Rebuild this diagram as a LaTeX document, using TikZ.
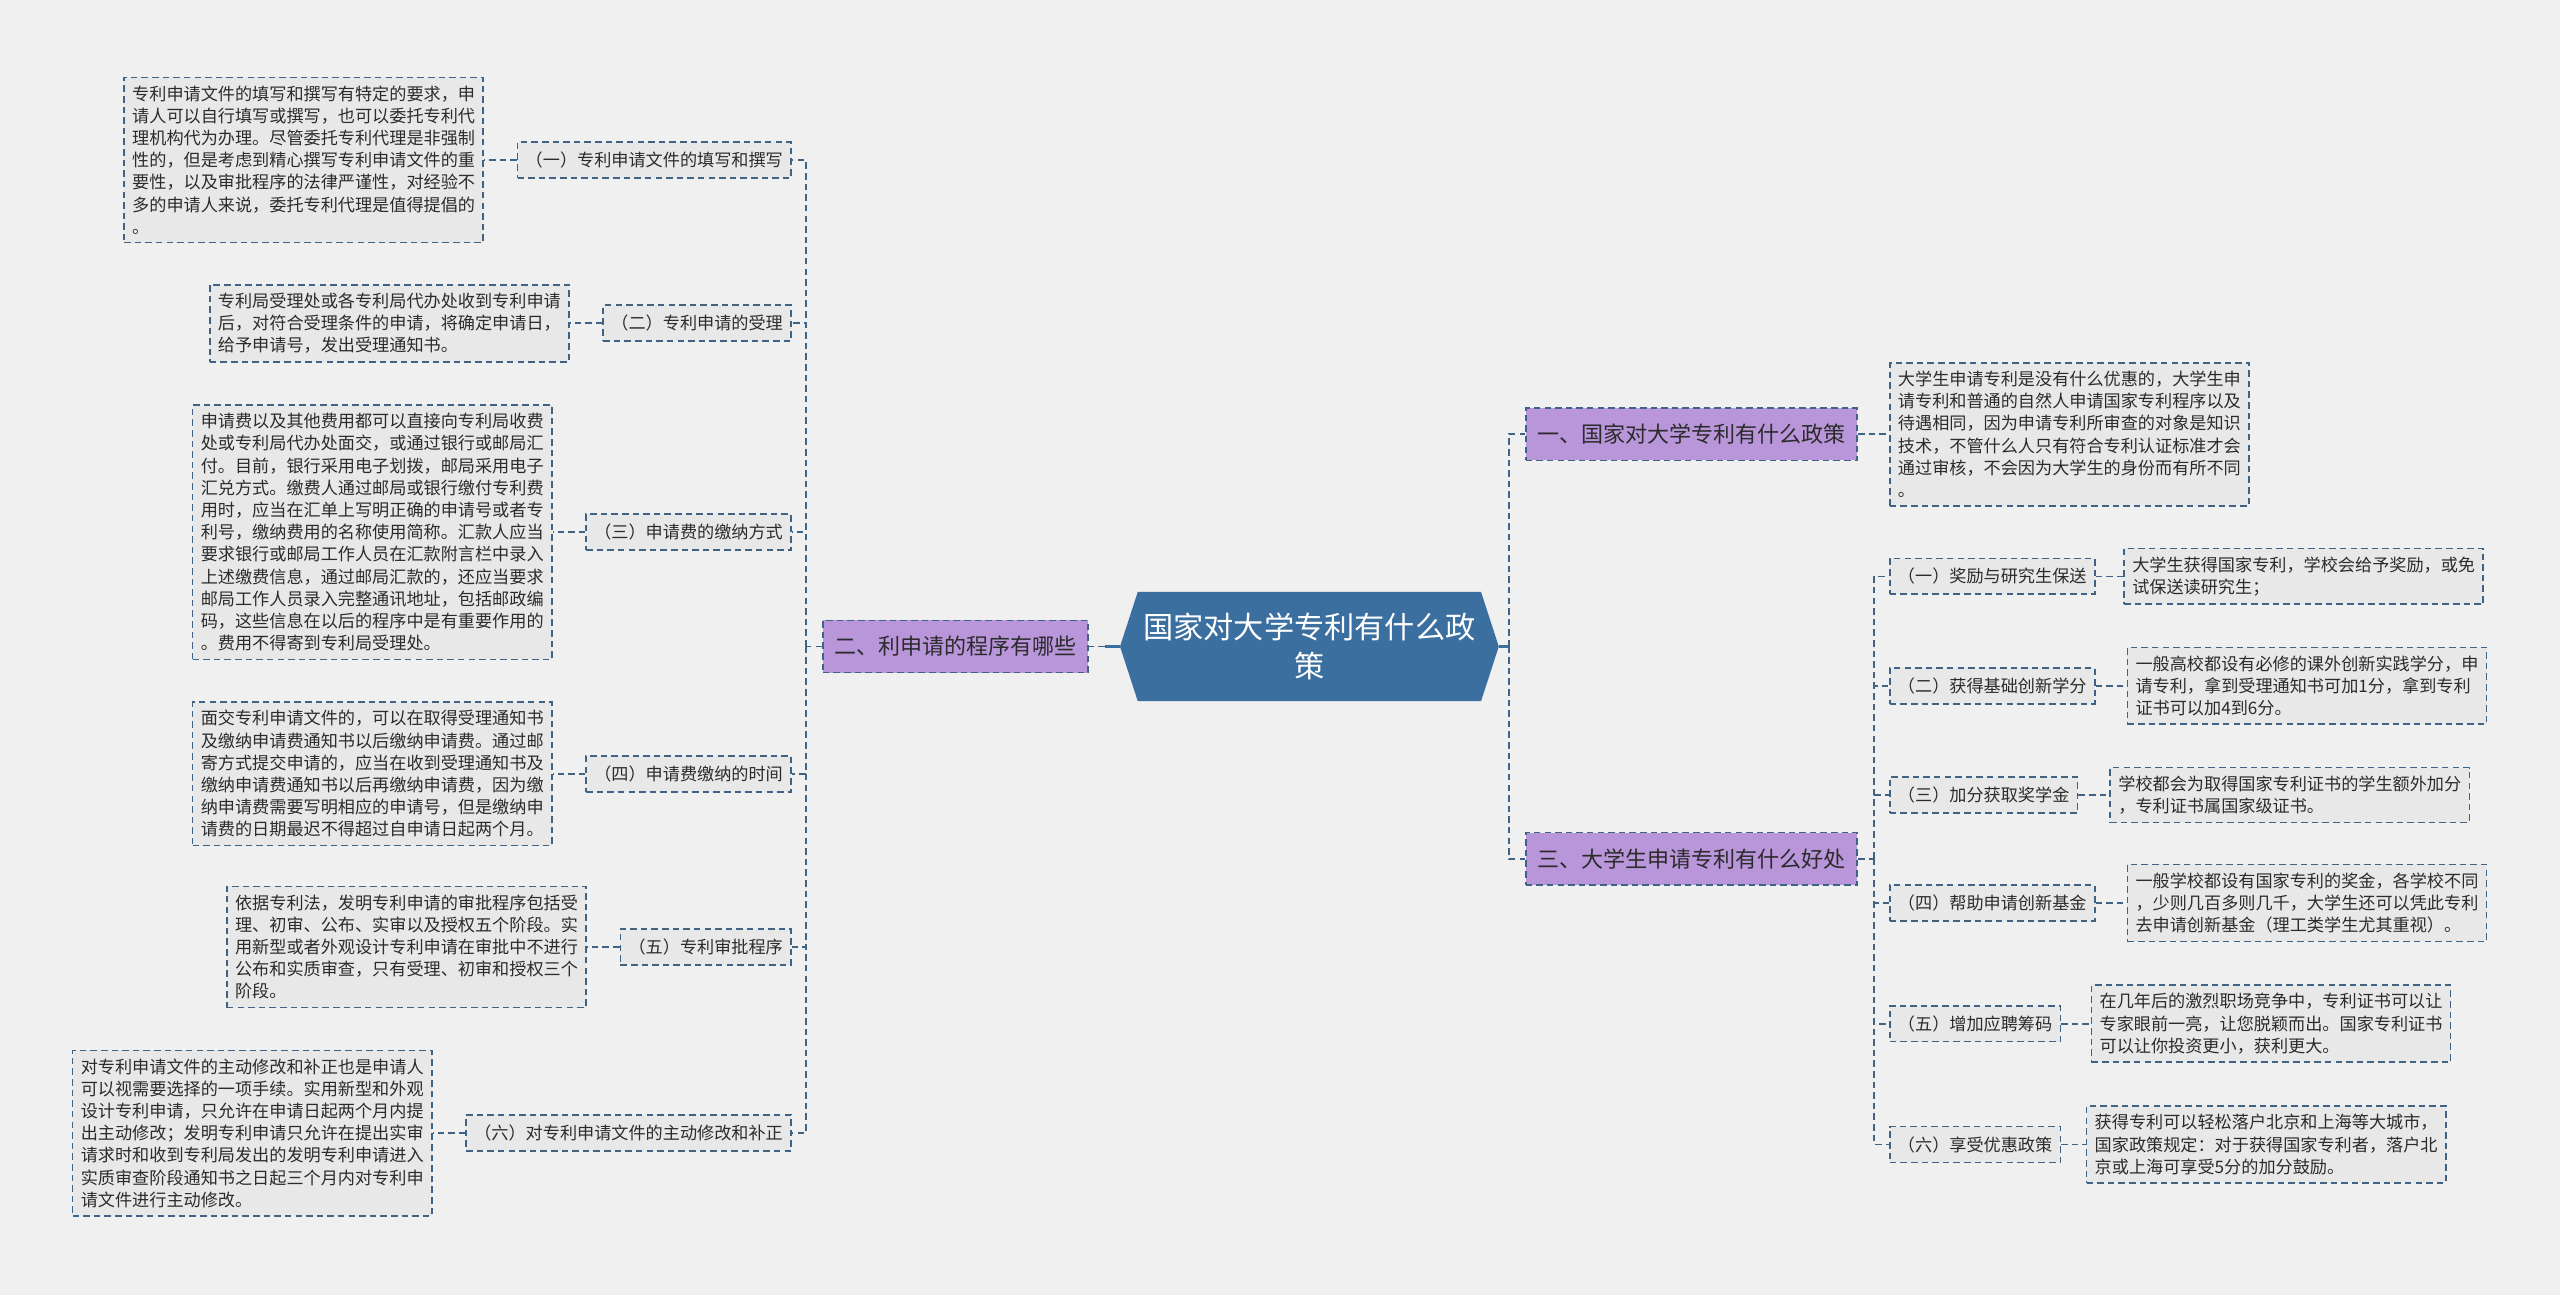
\documentclass[tikz,border=0pt]{standalone}
\usepackage{fontspec}
\setmainfont{Noto Sans CJK SC}
\usepackage{tikz}
\usetikzlibrary{positioning,shapes.symbols}
\usepackage{xcolor}
\definecolor{bgcol}{HTML}{F0F0F0}
\definecolor{rootblue}{HTML}{3B6FA0}
\definecolor{topicpurple}{HTML}{B995DA}
\definecolor{leafgray}{HTML}{E8E8E8}
\definecolor{linecol}{HTML}{3E6384}
\definecolor{txtcol}{HTML}{2B2B2B}

\begin{document}
\begin{tikzpicture}[
    x=1pt, y=-1pt,
    every node/.style={font=\fontsize{10.5}{13.6}\selectfont, text=txtcol},
    rootbox/.style={signal, signal to=west and east, signal pointer angle=144,
                    fill=rootblue, text=white, align=center,
                    font=\fontsize{18.5}{24}\selectfont,
                    minimum width=232pt, minimum height=67pt, inner sep=2pt},
    topicbox/.style={rectangle, draw=linecol, dash pattern=on 4pt off 2.5pt,
                     line width=1pt, fill=topicpurple,
                     font=\fontsize{13.5}{16}\selectfont,
                     minimum height=32pt, inner xsep=7pt},
    subbox/.style={rectangle, draw=linecol, dash pattern=on 4pt off 2.5pt,
                   line width=1pt, fill=leafgray,
                   minimum height=22pt, inner xsep=5pt},
    notebox/.style={rectangle, draw=linecol, dash pattern=on 4pt off 2.5pt,
                    line width=1pt, fill=leafgray,
                    text width=210pt, align=left, inner sep=5pt},
    link/.style={draw=linecol, line width=1pt, dash pattern=on 4pt off 2.5pt},
    rootlink/.style={draw=rootblue, line width=1.4pt},
]

\fill[bgcol] (0,0) rectangle (1568,793);

\node[rootbox] (root) at (802,396) {国家对大学专利有什么政\\策};

% left side
\node[topicbox, anchor=east] (two) at (667,396) {二、利申请的程序有哪些};

\node[subbox, anchor=east] (a1) at (485,98)  {（一）专利申请文件的填写和撰写};
\node[subbox, anchor=east] (a2) at (485,198) {（二）专利申请的受理};
\node[subbox, anchor=east] (a3) at (485,326) {（三）申请费的缴纳方式};
\node[subbox, anchor=east] (a4) at (485,474) {（四）申请费缴纳的时间};
\node[subbox, anchor=east] (a5) at (485,580) {（五）专利审批程序};
\node[subbox, anchor=east] (a6) at (485,694) {（六）对专利申请文件的主动修改和补正};

\node[notebox, left=20pt of a1] (n1) {专利申请文件的填写和撰写有特定的要求，申\\
请人可以自行填写或撰写，也可以委托专利代\\
理机构代为办理。尽管委托专利代理是非强制\\
性的，但是考虑到精心撰写专利申请文件的重\\
要性，以及审批程序的法律严谨性，对经验不\\
多的申请人来说，委托专利代理是值得提倡的\\
。};
\node[notebox, left=20pt of a2] (n2) {专利局受理处或各专利局代办处收到专利申请\\
后，对符合受理条件的申请，将确定申请日，\\
给予申请号，发出受理通知书。};
\node[notebox, left=20pt of a3] (n3) {申请费以及其他费用都可以直接向专利局收费\\
处或专利局代办处面交，或通过银行或邮局汇\\
付。目前，银行采用电子划拨，邮局采用电子\\
汇兑方式。缴费人通过邮局或银行缴付专利费\\
用时，应当在汇单上写明正确的申请号或者专\\
利号，缴纳费用的名称使用简称。汇款人应当\\
要求银行或邮局工作人员在汇款附言栏中录入\\
上述缴费信息，通过邮局汇款的，还应当要求\\
邮局工作人员录入完整通讯地址，包括邮政编\\
码，这些信息在以后的程序中是有重要作用的\\
。费用不得寄到专利局受理处。};
\node[notebox, left=20pt of a4] (n4) {面交专利申请文件的，可以在取得受理通知书\\
及缴纳申请费通知书以后缴纳申请费。通过邮\\
寄方式提交申请的，应当在收到受理通知书及\\
缴纳申请费通知书以后再缴纳申请费，因为缴\\
纳申请费需要写明相应的申请号，但是缴纳申\\
请费的日期最迟不得超过自申请日起两个月。};
\node[notebox, left=20pt of a5] (n5) {依据专利法，发明专利申请的审批程序包括受\\
理、初审、公布、实审以及授权五个阶段。实\\
用新型或者外观设计专利申请在审批中不进行\\
公布和实质审查，只有受理、初审和授权三个\\
阶段。};
\node[notebox, left=20pt of a6] (n6) {对专利申请文件的主动修改和补正也是申请人\\
可以视需要选择的一项手续。实用新型和外观\\
设计专利申请，只允许在申请日起两个月内提\\
出主动修改；发明专利申请只允许在提出实审\\
请求时和收到专利局发出的发明专利申请进入\\
实质审查阶段通知书之日起三个月内对专利申\\
请文件进行主动修改。};

% right side
\node[topicbox, anchor=west] (one)   at (934,266) {一、国家对大学专利有什么政策};
\node[topicbox, anchor=west] (three) at (934,526) {三、大学生申请专利有什么好处};

\node[notebox, right=19pt of one] (m0) {大学生申请专利是没有什么优惠的，大学生申\\
请专利和普通的自然人申请国家专利程序以及\\
待遇相同，因为申请专利所审查的对象是知识\\
技术，不管什么人只有符合专利认证标准才会\\
通过审核，不会因为大学生的身份而有所不同\\
。};

\node[subbox, anchor=west] (b1) at (1157,353) {（一）奖励与研究生保送};
\node[subbox, anchor=west] (b2) at (1157,420) {（二）获得基础创新学分};
\node[subbox, anchor=west] (b3) at (1157,487) {（三）加分获取奖学金};
\node[subbox, anchor=west] (b4) at (1157,553) {（四）帮助申请创新基金};
\node[subbox, anchor=west] (b5) at (1157,627) {（五）增加应聘筹码};
\node[subbox, anchor=west] (b6) at (1157,701) {（六）享受优惠政策};

\node[notebox, right=17pt of b1] (m1) {大学生获得国家专利，学校会给予奖励，或免\\
试保送读研究生；};
\node[notebox, right=19pt of b2] (m2) {一般高校都设有必修的课外创新实践学分，申\\
请专利，拿到受理通知书可加1分，拿到专利\\
证书可以加4到6分。};
\node[notebox, right=19pt of b3] (m3) {学校都会为取得国家专利证书的学生额外加分\\
，专利证书属国家级证书。};
\node[notebox, right=19pt of b4] (m4) {一般学校都设有国家专利的奖金，各学校不同\\
，少则几百多则几千，大学生还可以凭此专利\\
去申请创新基金（理工类学生尤其重视）。};
\node[notebox, right=18pt of b5] (m5) {在几年后的激烈职场竞争中，专利证书可以让\\
专家眼前一亮，让您脱颖而出。国家专利证书\\
可以让你投资更小，获利更大。};
\node[notebox, right=15pt of b6] (m6) {获得专利可以轻松落户北京和上海等大城市，\\
国家政策规定：对于获得国家专利者，落户北\\
京或上海可享受5分的加分鼓励。};

% connectors
\draw[rootlink] (root.west) -- ++(-9,0) coordinate (lc);
\draw[link] (lc) -- (two.east);
\coordinate (lj) at ([xshift=-10pt]two.west);
\draw[link] (two.west) -- (lj);
\foreach \n in {a1,a2,a3,a4,a5,a6}
  \draw[link] (lj) |- (\n.east);
\foreach \n/\m in {a1/n1,a2/n2,a3/n3,a4/n4,a5/n5,a6/n6}
  \draw[link] (\n.west) -- (\m.east);

\draw[rootlink] (root.east) -- ++(6,0) coordinate (rj);
\draw[link] (rj) |- (one.west);
\draw[link] (rj) |- (three.west);
\draw[link] (one.east) -- (m0.west);
\coordinate (tj) at ([xshift=10pt]three.east);
\draw[link] (three.east) -- (tj);
\foreach \n in {b1,b2,b3,b4,b5,b6}
  \draw[link] (tj) |- (\n.west);
\foreach \n/\m in {b1/m1,b2/m2,b3/m3,b4/m4,b5/m5,b6/m6}
  \draw[link] (\n.east) -- (\m.west);

\end{tikzpicture}
\end{document}
